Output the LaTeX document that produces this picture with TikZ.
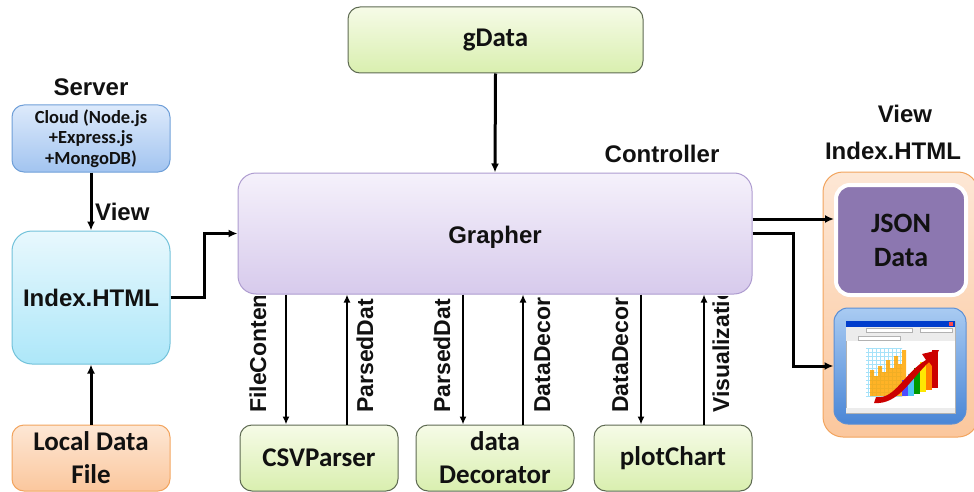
\documentclass[tikz,border=0pt]{standalone}
\usepackage{fontspec}
\setmainfont{Liberation Sans}
\newfontfamily\calib{Carlito}
\usetikzlibrary{arrows.meta}

\definecolor{txt}{HTML}{111111}
\definecolor{cloudtop}{HTML}{DDEAFB}
\definecolor{cloudbot}{HTML}{A2C4F0}
\definecolor{cloudline}{HTML}{6F9FD8}
\definecolor{idxtop}{HTML}{E8F8FD}
\definecolor{idxbot}{HTML}{ADE7F9}
\definecolor{idxline}{HTML}{72C2DA}
\definecolor{orgtop}{HTML}{FDE7D5}
\definecolor{orgbot}{HTML}{FBC79D}
\definecolor{orgline}{HTML}{F2A45E}
\definecolor{grtop}{HTML}{F6FBE7}
\definecolor{grbot}{HTML}{D9EFAF}
\definecolor{grline}{HTML}{5E6A52}
\definecolor{lavtop}{HTML}{F5F1FB}
\definecolor{lavbot}{HTML}{D7CAEC}
\definecolor{lavline}{HTML}{AE9CD0}
\definecolor{jsonfill}{HTML}{8C77B0}
\definecolor{chtop}{HTML}{A9CBF2}
\definecolor{chbot}{HTML}{4A86D6}
\definecolor{chline}{HTML}{5B8FD6}

\begin{document}
\begin{tikzpicture}[x=1pt,y=-1pt,
  arr/.style={line width=3pt, -{Latex[length=9pt,width=8pt]}},
  varr/.style={line width=2.5pt, -{Latex[length=8pt,width=7pt]}},
  calbox/.style={draw, line width=1pt, inner sep=0pt, align=center, text=txt,
    font=\calib\bfseries\fontsize{27}{33}\selectfont},
  greenbox/.style={calbox, rounded corners=12pt, top color=grtop, bottom color=grbot, draw=grline,
    minimum width=158pt, minimum height=66pt},
  lbl/.style={inner sep=0pt, text=txt, font=\bfseries\fontsize{24}{28}\selectfont},
  vlbl/.style={inner sep=0pt, rotate=90, anchor=base west, text=txt,
    font=\bfseries\fontsize{23}{26}\selectfont}
]
\useasboundingbox (0,0) rectangle (974,492);
\clip (0,0) rectangle (974,492);

% ---- left column: server, page, local file ----
\node[lbl] (server) at (91,87) {Server};
\node[calbox, rounded corners=12pt, top color=cloudtop, bottom color=cloudbot, draw=cloudline,
      minimum width=158pt, minimum height=67pt,
      font=\calib\bfseries\fontsize{18.5}{20.5}\selectfont] (cloud) at (91,138.5)
      {Cloud (Node.js\\+Express.js\\+MongoDB)};
\node[calbox, rounded corners=20pt, top color=idxtop, bottom color=idxbot, draw=idxline,
      minimum width=158pt, minimum height=133pt,
      font=\bfseries\fontsize{24}{28}\selectfont] (idx) at (91,297.5) {Index.HTML};
\node[calbox, rounded corners=12pt, top color=orgtop, bottom color=orgbot, draw=orgline,
      minimum width=158pt, minimum height=66pt] (local) at (91,458) {Local Data\\File};
\node[lbl, anchor=west] (viewl) at (95,212) {View};

\draw[arr] (cloud.south) -- (idx.north);
\draw[arr] (local.north) -- (idx.south);

% ---- controller ----
\node[calbox, rounded corners=12pt, top color=grtop, bottom color=grbot, draw=grline,
      minimum width=295pt, minimum height=66pt] (gdata) at (495.5,40) {gData};
\node[lbl] (ctrl) at (662,154) {Controller};
\node[calbox, rounded corners=18pt, top color=lavtop, bottom color=lavbot, draw=lavline,
      minimum width=514pt, minimum height=121pt,
      font=\bfseries\fontsize{24}{28}\selectfont] (grapher) at (495,233.5) {};
\node[lbl] (gtext) at (495,237) {Grapher};

\draw[arr] (gdata.south) -- (grapher.north);
\draw[arr] (idx.east) -- ++(34,0) |- (grapher.west);

% ---- worker modules ----
\node[greenbox] (csv) at (319,458) {CSVParser};
\node[greenbox] (deco) at (495,458) {data\\Decorator};
\node[greenbox] (plot) at (673,458) {plotChart};

\draw[varr] (grapher.south -| 286,0) -- (csv.north -| 286,0);
\draw[varr] (csv.north -| 347,0) -- (grapher.south -| 347,0);
\draw[varr] (grapher.south -| 463,0) -- (deco.north -| 463,0);
\draw[varr] (deco.north -| 523,0) -- (grapher.south -| 523,0);
\draw[varr] (grapher.south -| 641,0) -- (plot.north -| 641,0);
\draw[varr] (plot.north -| 704,0) -- (grapher.south -| 704,0);

\begin{scope}
  \clip (230,296) rectangle (760,420);
  \node[vlbl] (l1) at (266,413) {FileConten};
  \node[vlbl] (l2) at (373,413) {ParsedDat};
  \node[vlbl] (l3) at (450,413) {ParsedDat};
  \node[vlbl] (l4) at (550,413) {DataDecor};
  \node[vlbl] (l5) at (628,413) {DataDecor};
  \node[vlbl] (l6) at (729,413) {Visualizatio};
\end{scope}

% ---- output view ----
\node[lbl] (viewr) at (905,114) {View};
\node[lbl] (idxr) at (893,151) {Index.HTML};
\node[draw=orgline, line width=1pt, rounded corners=20pt, top color=orgtop, bottom color=orgbot,
      minimum width=155pt, minimum height=265pt, inner sep=0pt] (panel) at (900.5,304.5) {};
\node[calbox, draw=white, line width=4pt, rounded corners=14pt, fill=jsonfill,
      minimum width=130pt, minimum height=110pt, font=\calib\bfseries\fontsize{28}{34}\selectfont]
      (json) at (901,240) {JSON\\Data};
\node[draw=chline, line width=1pt, rounded corners=14pt, top color=chtop, bottom color=chbot,
      minimum width=132pt, minimum height=116pt, inner sep=0pt] (chart) at (900,366) {};

\draw[arr] (grapher.east |- 0,219) -- (json.west |- 0,219);
\draw[arr] (grapher.east) -- ++(41,0) |- (chart.west);

% browser window with a rising chart
\fill[white, draw=gray!60, line width=0.4pt] (846,321) rectangle (955,413);
\fill[blue!70!cyan!80!black] (846,321) rectangle (955,327);
\fill[red!70] (949,322) rectangle (953,326);
\fill[gray!15] (846,327) rectangle (955,341);
\draw[gray!60, line width=0.4pt, fill=white] (866,328.5) rectangle (912,332.5);
\draw[gray!60, line width=0.4pt, fill=white] (920,328.5) rectangle (952,332.5);
\draw[gray!60, line width=0.4pt, fill=white] (858,336) rectangle (900,340);
\fill[gray!15] (846,408) rectangle (955,413);
% grid
\begin{scope}
  \clip (866,348) rectangle (902,396);
  \draw[cyan!35, line width=0.3pt] (860,344) grid[step=4pt] (904,398);
\end{scope}
% orange skyline
\fill[orange!70!yellow, opacity=0.85]
  (870,396) -- (870,370) -- (874,370) -- (874,376) -- (878,376) -- (878,366) -- (882,366)
  -- (882,372) -- (886,372) -- (886,360) -- (890,360) -- (890,368) -- (894,368) -- (894,356)
  -- (898,356) -- (898,364) -- (902,364) -- (902,350) -- (906,350) -- (906,396) -- cycle;
% rainbow bars
\fill[blue!70] (902,396) rectangle (908,380);
\fill[cyan!70] (908,396) rectangle (914,374);
\fill[green!60!black] (914,394) rectangle (920,368);
\fill[yellow!90!orange] (920,392) rectangle (926,362);
\fill[orange] (926,390) rectangle (932,356);
\fill[red!80!black] (932,388) rectangle (938,350);
% red arrow
\fill[red!80!black] (876,397) .. controls (895,400) and (905,372) .. (926,360)
  -- (922,354) -- (939,350) -- (932,366) -- (929,362)
  .. controls (910,380) and (898,405) .. (874,403) -- cycle;
\end{tikzpicture}
\end{document}
